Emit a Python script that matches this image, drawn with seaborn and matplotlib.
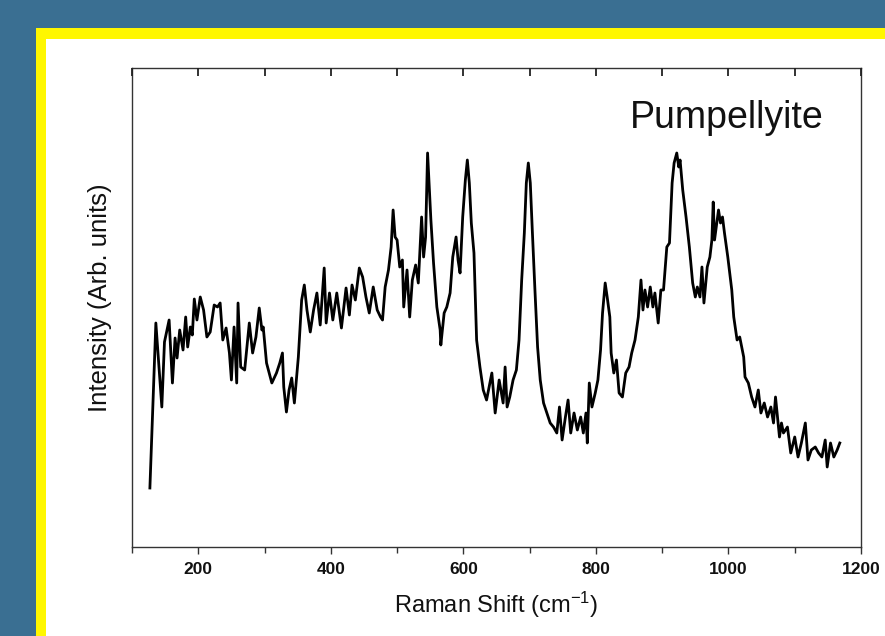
import matplotlib
matplotlib.use("Agg")
import matplotlib.pyplot as plt
from matplotlib.patches import Rectangle
from matplotlib.ticker import FixedLocator
import seaborn as sns

# Raman shift (cm^-1) and intensity (arb. units)
shift = [127, 136, 145, 149, 156, 161, 165, 168, 172, 177, 181, 184, 188, 191, 194, 198,
         203, 208, 213, 218, 224, 229, 233, 237, 242, 247, 250, 254, 258, 260, 264, 270,
         277, 282, 287, 292, 296,
         298, 303, 311, 318, 323, 327, 329, 333, 337, 341, 345, 351, 356, 360, 364, 369,
         374, 379, 384, 390, 393, 398, 403, 409, 416, 423, 428, 432, 437, 443, 448, 453,
         458, 464, 470, 475,
         478, 482, 487, 491, 494, 497, 500, 504, 508, 510, 515, 519, 523, 528, 532, 537,
         540, 543, 546, 549, 551, 555, 560, 565, 566, 571, 575, 580, 584, 589, 592, 595,
         599, 603, 606, 609, 612, 616, 620, 625, 630, 635, 643, 648, 654,
         660, 663, 666, 670, 675, 680, 684, 688, 692, 695, 698, 701, 704, 708, 712, 716,
         721, 726, 731, 736, 741, 745, 749, 754, 758, 762, 767, 772, 777, 781, 785, 787,
         790, 794, 799, 803, 807, 810, 814, 817, 821, 823, 827, 831,
         835, 840, 845, 850, 854, 859, 864, 868, 871, 874, 878, 882, 886, 889, 894, 898,
         902, 907, 911, 915, 918, 922, 925, 927, 931, 936, 941, 946, 950, 953, 957, 960,
         963, 968, 972, 975, 977, 979, 985, 988, 991, 994, 999, 1005, 1008, 1013,
         1017, 1023, 1025, 1030, 1035, 1040, 1045, 1049, 1054, 1059, 1064, 1068, 1071, 1077,
         1080, 1083, 1089, 1094, 1100, 1105, 1110, 1116, 1120, 1125, 1131, 1136, 1141, 1146,
         1149, 1154, 1159, 1164, 1168]

intensity = [59, 224, 140, 205, 227, 164, 209, 189, 217, 197, 230, 200, 220, 212, 248, 227,
             250, 237, 210, 215, 242, 240, 244, 207, 219, 194, 167, 220, 164, 244, 180, 177,
             224, 194, 210, 239, 217,
             220, 184, 164, 174, 184, 194, 160, 135, 157, 169, 144, 190, 247, 262, 237, 215,
             237, 254, 222, 279, 224, 254, 227, 254, 219, 259, 232, 262, 247, 279, 270, 250,
             234, 260, 237, 230,
             227, 260, 277, 300, 337, 310, 307, 280, 287, 240, 277, 230, 267, 282, 264, 330,
             290, 310, 394, 354, 327, 284, 240, 217, 202, 234, 240, 254, 290, 310, 287, 274,
             330, 367, 387, 364, 324, 294, 207, 180, 157, 147, 174, 134, 167,
             144, 180, 140, 150, 167, 177, 207, 267, 314, 364, 384, 364, 317, 257, 200, 167,
             144, 134, 124, 120, 114, 140, 107, 130, 147, 114, 134, 117, 130, 114, 134, 104,
             164, 140, 154, 167, 197, 234, 264, 250, 230, 194, 174, 187,
             154, 150, 174, 180, 194, 207, 230, 267, 237, 257, 240, 260, 240, 254, 224, 257,
             257, 300, 304, 364, 384, 394, 380, 387, 357, 330, 300, 264, 250, 260, 250, 280,
             244, 280, 290, 307, 345, 307, 337, 324, 330, 314, 290, 257, 230, 207,
             210, 190, 170, 164, 150, 140, 157, 134, 144, 130, 140, 124, 150, 110,
             124, 114, 120, 94, 110, 90, 104, 124, 87, 97, 100, 94, 90, 107,
             80, 104, 90, 97, 104]

xticks_major = [200, 400, 600, 800, 1000, 1200]
xticks_minor = [100, 300, 500, 700, 900, 1100]

plt.rcParams["mathtext.fontset"] = "custom"
plt.rcParams["mathtext.rm"] = "Liberation Sans"
plt.rcParams["mathtext.it"] = "Liberation Sans"

W, H = 885, 636
fig = plt.figure(figsize=(W / 100, H / 100), dpi=100)
fig.patch.set_facecolor("#3a6f92")
fig.patches.append(Rectangle((36 / W, -0.1), 1.2, 1.1 - 28 / H, transform=fig.transFigure,
                             facecolor="#fff700", edgecolor="none", zorder=-10))
fig.patches.append(Rectangle((46 / W, -0.1), 1.2, 1.1 - 39 / H, transform=fig.transFigure,
                             facecolor="white", edgecolor="none", zorder=-9))

ax = fig.add_axes([132 / W, 1 - 547 / H, (861 - 132) / W, (547 - 68) / H])
ax.set_zorder(5)
sns.lineplot(x=shift, y=intensity, ax=ax, color="black", linewidth=2.0,
             estimator=None, sort=False)

ax.set_xlim(100, 1200)
ax.set_ylim(0, 479)
ax.set_facecolor("white")
for s in ax.spines.values():
    s.set_color("#333333")
    s.set_linewidth(1.0)

ax.xaxis.set_major_locator(FixedLocator(xticks_major))
ax.xaxis.set_minor_locator(FixedLocator(xticks_minor))
ax.set_yticks([])
ax.tick_params(axis="x", which="major", direction="out", length=5, width=1, color="#333333",
               pad=6, labelsize=12.5, labelcolor="#111111")
ax.tick_params(axis="x", which="minor", direction="out", length=4, width=1, color="#333333")
for lab in ax.get_xticklabels():
    lab.set_fontfamily("Liberation Sans")
    lab.set_fontweight("bold")

# inward tick marks along the top edge (about 8 px long)
ax.vlines(xticks_major + xticks_minor, 1 - 8 / 479, 1, transform=ax.get_xaxis_transform(),
          colors="#222222", linewidth=1.3, clip_on=False, zorder=6)

ax.set_xlabel("Raman Shift (cm$^{-1}$)", fontsize=17, family="Liberation Sans",
              color="#111111", labelpad=9)
ax.set_ylabel("Intensity (Arb. units)", fontsize=18.5, family="Liberation Sans",
              color="#111111")
ax.yaxis.set_label_coords(-0.028, 0.52)

ax.text(0.683, 0.875, "Pumpellyite", transform=ax.transAxes, fontsize=27,
        family="Liberation Sans", color="#111111", ha="left", va="baseline")

fig.savefig("out.png", dpi=100, facecolor=fig.get_facecolor())
